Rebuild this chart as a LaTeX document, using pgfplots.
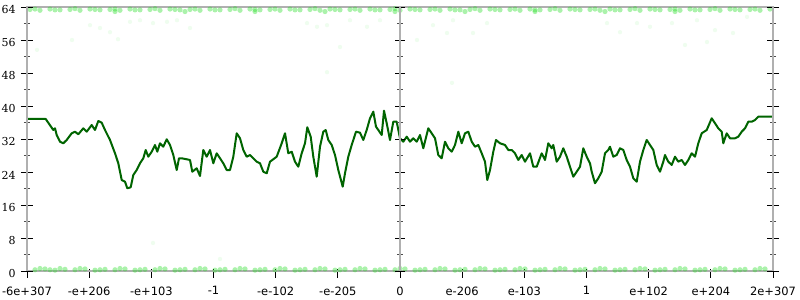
\documentclass[border=0pt]{standalone}
\usepackage{fontspec}
\setmainfont{DejaVu Sans}
\newfontfamily\dvserif{DejaVu Serif}
\usepackage{pgfplots}
\pgfplotsset{compat=1.18}
\definecolor{axgray}{HTML}{B0B0B0}
\definecolor{dgreen}{HTML}{006400}
\definecolor{dotgreen}{HTML}{22DD22}
\pgfplotsset{common/.style={scale only axis, height=264bp,
  ymin=0, ymax=64,
  /pgf/number format/assume math mode=true}}
\begin{document}
\begin{tikzpicture}
\begin{axis}[common, width=746bp, xmin=-373, xmax=373,
  axis line style={axgray, line width=1.6bp},
  xtick={-373,-310.83,-248.67,-186.5,-124.33,-62.17,0,62.17,124.33,186.5,248.67,310.83,373},
  xticklabels={-6e+307,-e+206,-e+103,-1,-e-102,-e-205,0,e-206,e-103,1,e+102,e+204,2e+307},
  xtick pos=bottom, ytick pos=left,
  tick align=outside, major tick length=9bp,
  xtick style={black, line width=0.8bp, yshift=2bp},
  ytick={0,8,...,64},
  ytick style={draw=none},
  yticklabel style={font=\dvserif\fontsize{11}{13}\selectfont, xshift=1bp, yshift=-3bp},
  xticklabel style={font=\fontsize{11.5}{13}\selectfont, yshift=-3bp},
]
\coordinate (sw) at (rel axis cs:0,0);
\coordinate (ne) at (rel axis cs:1,1);
% faint scatter bands
\addplot[only marks, mark=*, mark size=2.6bp, mark options={draw opacity=0, fill=dotgreen, fill opacity=0.38}] coordinates {
(-365,0.3) (-355,0.5) (-345,0.2) (-335,0.4) (-325,0.3) (-315,0.5) (-305,0.2) (-295,0.4) (-285,0.3) (-275,0.5)
(-265,0.2) (-255,0.4) (-245,0.3) (-235,0.5) (-225,0.2) (-215,0.4) (-205,0.3) (-195,0.5) (-185,0.2) (-175,0.4)
(-165,0.3) (-155,0.5) (-145,0.2) (-135,0.4) (-125,0.3) (-115,0.5) (-105,0.2) (-95,0.4) (-85,0.3) (-75,0.5)
(-65,0.2) (-55,0.4) (-45,0.3) (-35,0.5) (-25,0.2) (-15,0.4) (-5,0.3) (5,0.5) (15,0.2) (25,0.4)
(35,0.3) (45,0.5) (55,0.2) (65,0.4) (75,0.3) (85,0.5) (95,0.2) (105,0.4) (115,0.3) (125,0.5)
(135,0.2) (145,0.4) (155,0.3) (165,0.5) (175,0.2) (185,0.4) (195,0.3) (205,0.5) (215,0.2) (225,0.4)
(235,0.3) (245,0.5) (255,0.2) (265,0.4) (275,0.3) (285,0.5) (295,0.2) (305,0.4) (315,0.3) (325,0.5)
(335,0.2) (345,0.4) (355,0.3) (365,0.5)
(-360,0.6) (-350,0.3) (-340,0.6) (-320,0.6) (-300,0.3) (-280,0.6) (-260,0.3) (-240,0.6) (-220,0.3) (-200,0.6)
(-180,0.3) (-160,0.6) (-140,0.3) (-120,0.6) (-100,0.3) (-80,0.6) (-60,0.3) (-40,0.6) (-20,0.3) (0,0.6)
(20,0.3) (40,0.6) (60,0.3) (80,0.6) (100,0.3) (120,0.6) (140,0.3) (160,0.6) (180,0.3) (200,0.6)
(220,0.3) (240,0.6) (260,0.3) (280,0.6) (300,0.3) (320,0.6) (340,0.3) (360,0.6)
};
\addplot[only marks, mark=*, mark size=2.6bp, mark options={draw opacity=0, fill=dotgreen, fill opacity=0.38}] coordinates {
(-370,63.4) (-360,63.2) (-350,63.5) (-340,63.3) (-330,63.4) (-320,63.2) (-310,63.5) (-300,63.3) (-290,63.4) (-280,63.2)
(-270,63.5) (-260,63.3) (-250,63.4) (-240,63.2) (-230,63.5) (-220,63.3) (-210,63.4) (-200,63.2) (-190,63.5) (-180,63.3)
(-170,63.4) (-160,63.2) (-150,63.5) (-140,63.3) (-130,63.4) (-120,63.2) (-110,63.5) (-100,63.3) (-90,63.4) (-80,63.2)
(-70,63.5) (-60,63.3) (-50,63.4) (-40,63.2) (-30,63.5) (-20,63.3) (-10,63.4) (0,63.2) (10,63.5) (20,63.3)
(30,63.4) (40,63.2) (50,63.5) (60,63.3) (70,63.4) (80,63.2) (90,63.5) (100,63.3) (110,63.4) (120,63.2)
(130,63.5) (140,63.3) (150,63.4) (160,63.2) (170,63.5) (180,63.3) (190,63.4) (200,63.2) (210,63.5) (220,63.3)
(230,63.4) (240,63.2) (250,63.5) (260,63.3) (270,63.4) (280,63.2) (290,63.5) (300,63.3) (310,63.4) (320,63.2)
(330,63.5) (340,63.3) (350,63.4) (360,63.2) (370,63.5)
(-365,63.5) (-345,63.3) (-325,63.6) (-305,63.4) (-285,63.5) (-265,63.3) (-245,63.6) (-225,63.4) (-205,63.5)
(-185,63.3) (-165,63.6) (-145,63.4) (-125,63.5) (-105,63.3) (-85,63.6) (-65,63.4) (-45,63.5) (-25,63.3) (-5,63.6)
(15,63.4) (35,63.5) (55,63.3) (75,63.6) (95,63.4) (115,63.5) (135,63.3) (155,63.6) (175,63.4) (195,63.5)
(215,63.3) (235,63.6) (255,63.4) (275,63.5) (295,63.3) (315,63.6) (335,63.4) (355,63.5)
(-285,62.9) (-215,62.9) (-145,62.9) (-75,62.9) (-5,62.9) (65,62.9) (135,62.9) (205,62.9) (275,62.9)
};
\addplot[only marks, mark=*, mark size=2.2bp, mark options={draw opacity=0, fill=dotgreen, fill opacity=0.07}] coordinates {
(-310,59.6) (-300,58.9) (-290,57.9) (-328,56.0) (-363,53.6) (-282,56.2) (-270,60.4) (-260,60.8) (-247,60.1)
(-233,60.4) (-223,60.8) (-210,58.9) (-93,60.1) (-83,59.2) (-73,59.6) (-60,54.3) (-50,60.8) (-33,59.2)
(-20,60.8) (17,56.0) (33,59.6) (47,57.7) (53,60.8) (73,57.7) (87,60.1) (52,45.6) (-73,48.2) (207,60.1)
(220,57.9) (237,60.1) (250,59.2) (272,60.1) (285,54.8) (297,60.8) (307,55.5) (315,58.4) (333,57.7) (347,61.6)
(-247,6.8) (-180,2.9)
};
% main line
\addplot[dgreen, line width=2bp, line join=round] coordinates {
(-373,36.85) (-354.3,36.85) (-346.7,34.18) (-345,34.59) (-343.3,32.97) (-340,31.35) (-336.7,30.96) (-333.3,31.76)
(-328.3,33.38) (-325,33.77) (-321.7,33.14) (-316.7,34.59) (-313.3,33.77) (-308.3,35.39) (-305,34.18) (-301.7,36.36)
(-298.3,35.95) (-295,34.18) (-290,31.76) (-285,28.53) (-281.7,26.11) (-278.3,22.06) (-275,21.65) (-272.7,20.05)
(-269.3,20.29) (-266.7,23.27) (-263.3,24.48) (-260,26.11) (-256.7,27.32) (-254.3,29.33) (-251.7,27.71) (-248.3,28.92)
(-245,30.55) (-242.7,28.92) (-240,30.96) (-236.7,30.13) (-233.3,31.93) (-230,30.55) (-226.7,28.12) (-223.3,24.48)
(-221,27.32) (-218.3,27.32) (-213.3,27.08) (-210,26.91) (-207.7,24.07) (-203.3,24.90) (-200,23.03) (-196.7,29.33)
(-193.3,27.71) (-190,29.33) (-186.7,26.11) (-183.3,28.53) (-180,27.32) (-176.7,26.11) (-173.3,24.48) (-170,24.48)
(-166.7,27.71) (-163.3,33.38) (-160,32.17) (-156.7,29.33) (-153.3,27.71) (-150,28.12) (-146.7,27.32) (-143.3,26.50)
(-140,26.11) (-136.7,24.07) (-133.3,23.68) (-130,26.50) (-123.3,27.71) (-118.3,30.96) (-115,33.38) (-111.7,28.53)
(-108.3,28.92) (-105,26.50) (-101.7,25.28) (-98.3,28.53) (-95,30.96) (-92.7,34.84) (-89.3,32.56) (-86.7,27.71)
(-83.3,22.86) (-80,30.13) (-76.7,33.77) (-74.3,34.18) (-71.7,31.76) (-68.3,30.55) (-65,28.12) (-61.7,24.48)
(-57.3,20.44) (-55,23.68) (-51.7,27.71) (-48.3,30.55) (-44,33.77) (-40,33.53) (-36.7,31.76) (-33.3,34.18)
(-30,37.02) (-26.7,38.62) (-24,34.98) (-21.7,34.18) (-18.3,32.97) (-16,38.86) (-13.3,35.81) (-10,31.76)
(-6.7,36.19) (-3.3,36.19) (0,32.17) (3.3,31.35) (6.7,32.56) (10,31.35) (13.3,32.17) (16.7,31.35)
(20,32.97) (23.3,29.75) (28.3,34.59) (31.7,33.38) (35,32.17) (38.3,28.12) (41.7,27.32) (45,31.35)
(48.3,29.75) (51.7,28.92) (55,30.55) (58.3,33.77) (61.7,30.96) (65,33.38) (68.3,33.77) (71.7,31.35)
(75,30.13) (78.3,30.55) (81.7,28.53) (85,26.50) (87.3,22.06) (90,24.48) (93.3,28.92) (96,31.76)
(100,30.96) (105,30.55) (108.3,29.33) (111.7,29.33) (115,28.53) (118.3,26.91) (121.7,28.12) (125,26.50)
(130,28.53) (133.3,25.28) (136.7,25.28) (141.7,28.53) (145,26.91) (148.3,30.96) (151.7,29.75) (153.3,30.55)
(156.7,26.50) (160,27.71) (163.3,29.75) (166.7,27.71) (170,25.28) (173.3,22.86) (176.7,24.07) (180,25.28)
(183.3,29.75) (186.7,27.71) (190,26.11) (191.7,24.07) (195,21.26) (198.3,22.47) (201.7,24.07) (205,28.53)
(208.3,29.33) (210,30.13) (213.3,27.71) (216.7,28.12) (220,29.75) (223.3,29.33) (226.7,26.91) (230,25.28)
(233.3,22.47) (236.7,21.65) (240,26.50) (243.3,29.33) (246.7,31.76) (250,30.55) (253.3,29.33) (256.7,25.70)
(260,24.07) (263.3,26.50) (265,28.12) (268.3,26.50) (271.7,25.70) (275,27.71) (278.3,26.50) (281.7,26.91)
(285,25.70) (288.3,26.91) (291.7,28.53) (295,27.71) (298.3,30.96) (301.7,33.38) (306.7,34.18) (311.7,37.02)
(315,35.81) (318.3,34.59) (321.7,33.77) (323.3,30.96) (326.7,33.38) (330,32.17) (335,32.17) (338.3,32.56)
(341.7,33.77) (345,34.59) (348.3,36.19) (351.7,36.19) (355,36.60) (358.3,37.41) (373,37.41)
};
\end{axis}
% left and right y axes with centred ticks
\begin{axis}[common, width=746bp, xmin=-373, xmax=373,
  axis x line=none, axis y line*=box,
  axis line style={axgray, line width=1.6bp, -},
  xtick=\empty, ytick={0,8,...,64}, yticklabels={},
  minor y tick num=1, ytick pos=both,
  tick align=center, major tick length=12bp, minor tick length=6bp,
  major tick style={black, line width=0.8bp},
  minor tick style={black!70, line width=0.8bp},
]
\end{axis}
% centre y axis: a half-width axis whose left edge is x = 0
\begin{axis}[common, width=373bp, xmin=0, xmax=1,
  at={(ne)}, anchor=north east,
  axis x line=none, axis y line*=left,
  axis line style={axgray, line width=1.6bp, -},
  xtick=\empty, ytick={0,8,...,64}, yticklabels={},
  minor y tick num=1,
  tick align=center, major tick length=10bp, minor tick length=6bp,
  major tick style={black, line width=0.8bp},
  minor tick style={black!70, line width=0.8bp},
]
\end{axis}
\pgfresetboundingbox
\path[use as bounding box] ([xshift=-27bp,yshift=-29bp]sw) rectangle ([xshift=27bp,yshift=7bp]ne);
\end{tikzpicture}
\end{document}
